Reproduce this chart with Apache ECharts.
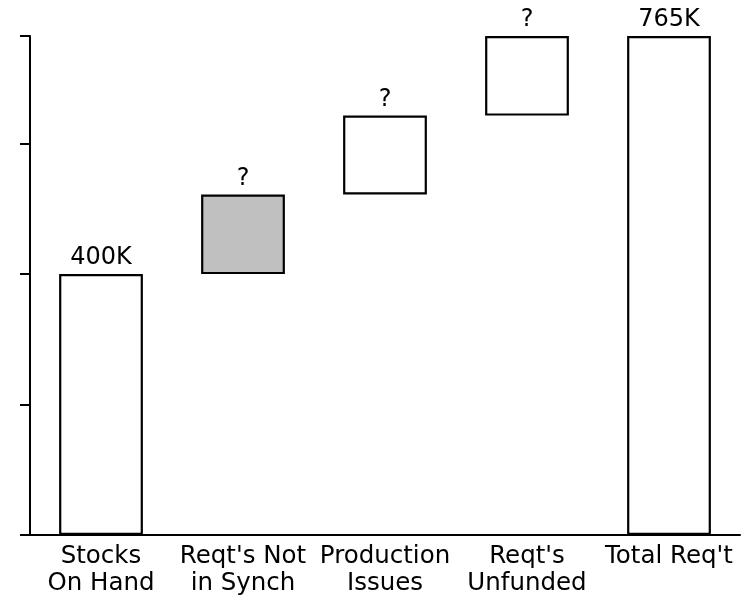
<!DOCTYPE html>
<html>
<head>
<meta charset="utf-8">
<script src="https://cdn.jsdelivr.net/npm/echarts@6/dist/echarts.min.js"></script>
<style>
html,body{margin:0;padding:0;background:#fff;}
#chart{width:746px;height:600px;}
</style>
</head>
<body>
<div id="chart"></div>
<script>
const categories = ['Stocks\nOn Hand', "Reqt's Not\nin Synch", 'Production\nIssues', "Reqt's\nUnfunded", "Total Req't"];
const bases = [0, 400, 522, 643, 0];
const amounts = [400, 122, 121, 122, 765];
const barLabels = ['400K', '?', '?', '?', '765K'];
const yMin = 0, yMax = 765, yStep = 200;

const chart = echarts.init(document.getElementById('chart'), null, {renderer: 'canvas'});
const font = 'DejaVu Sans';
chart.setOption({
  animation: false,
  backgroundColor: '#ffffff',
  grid: {left: 30, right: 6, top: 36, bottom: 65, containLabel: false},
  xAxis: {
    type: 'category',
    data: categories,
    axisLine: {lineStyle: {color: '#000', width: 2}},
    axisTick: {show: false},
    axisLabel: {interval: 0, color: '#000', fontFamily: font, fontSize: 24.5, lineHeight: 27, margin: 8}
  },
  yAxis: {
    type: 'value',
    min: yMin, max: yMax, interval: yStep,
    axisLine: {show: true, lineStyle: {color: '#000', width: 2}},
    axisTick: {show: true, inside: false, length: 10, lineStyle: {color: '#000', width: 2}},
    axisLabel: {show: false},
    splitLine: {show: false}
  },
  series: [
    {
      type: 'bar', stack: 'w', data: bases, barWidth: '59%',
      itemStyle: {color: 'transparent', borderWidth: 0},
      emphasis: {disabled: true}, silent: true
    },
    {
      type: 'bar', stack: 'w', data: amounts, barWidth: '59%',
      itemStyle: {
        color: p => p.dataIndex === 1 ? '#c0c0c0' : '#ffffff',
        borderColor: '#000', borderWidth: 2.2
      },
      label: {
        show: true, position: 'top', distance: 4,
        formatter: p => barLabels[p.dataIndex],
        color: '#000', fontFamily: font, fontSize: 24
      }
    }
  ]
});
</script>
</body>
</html>
